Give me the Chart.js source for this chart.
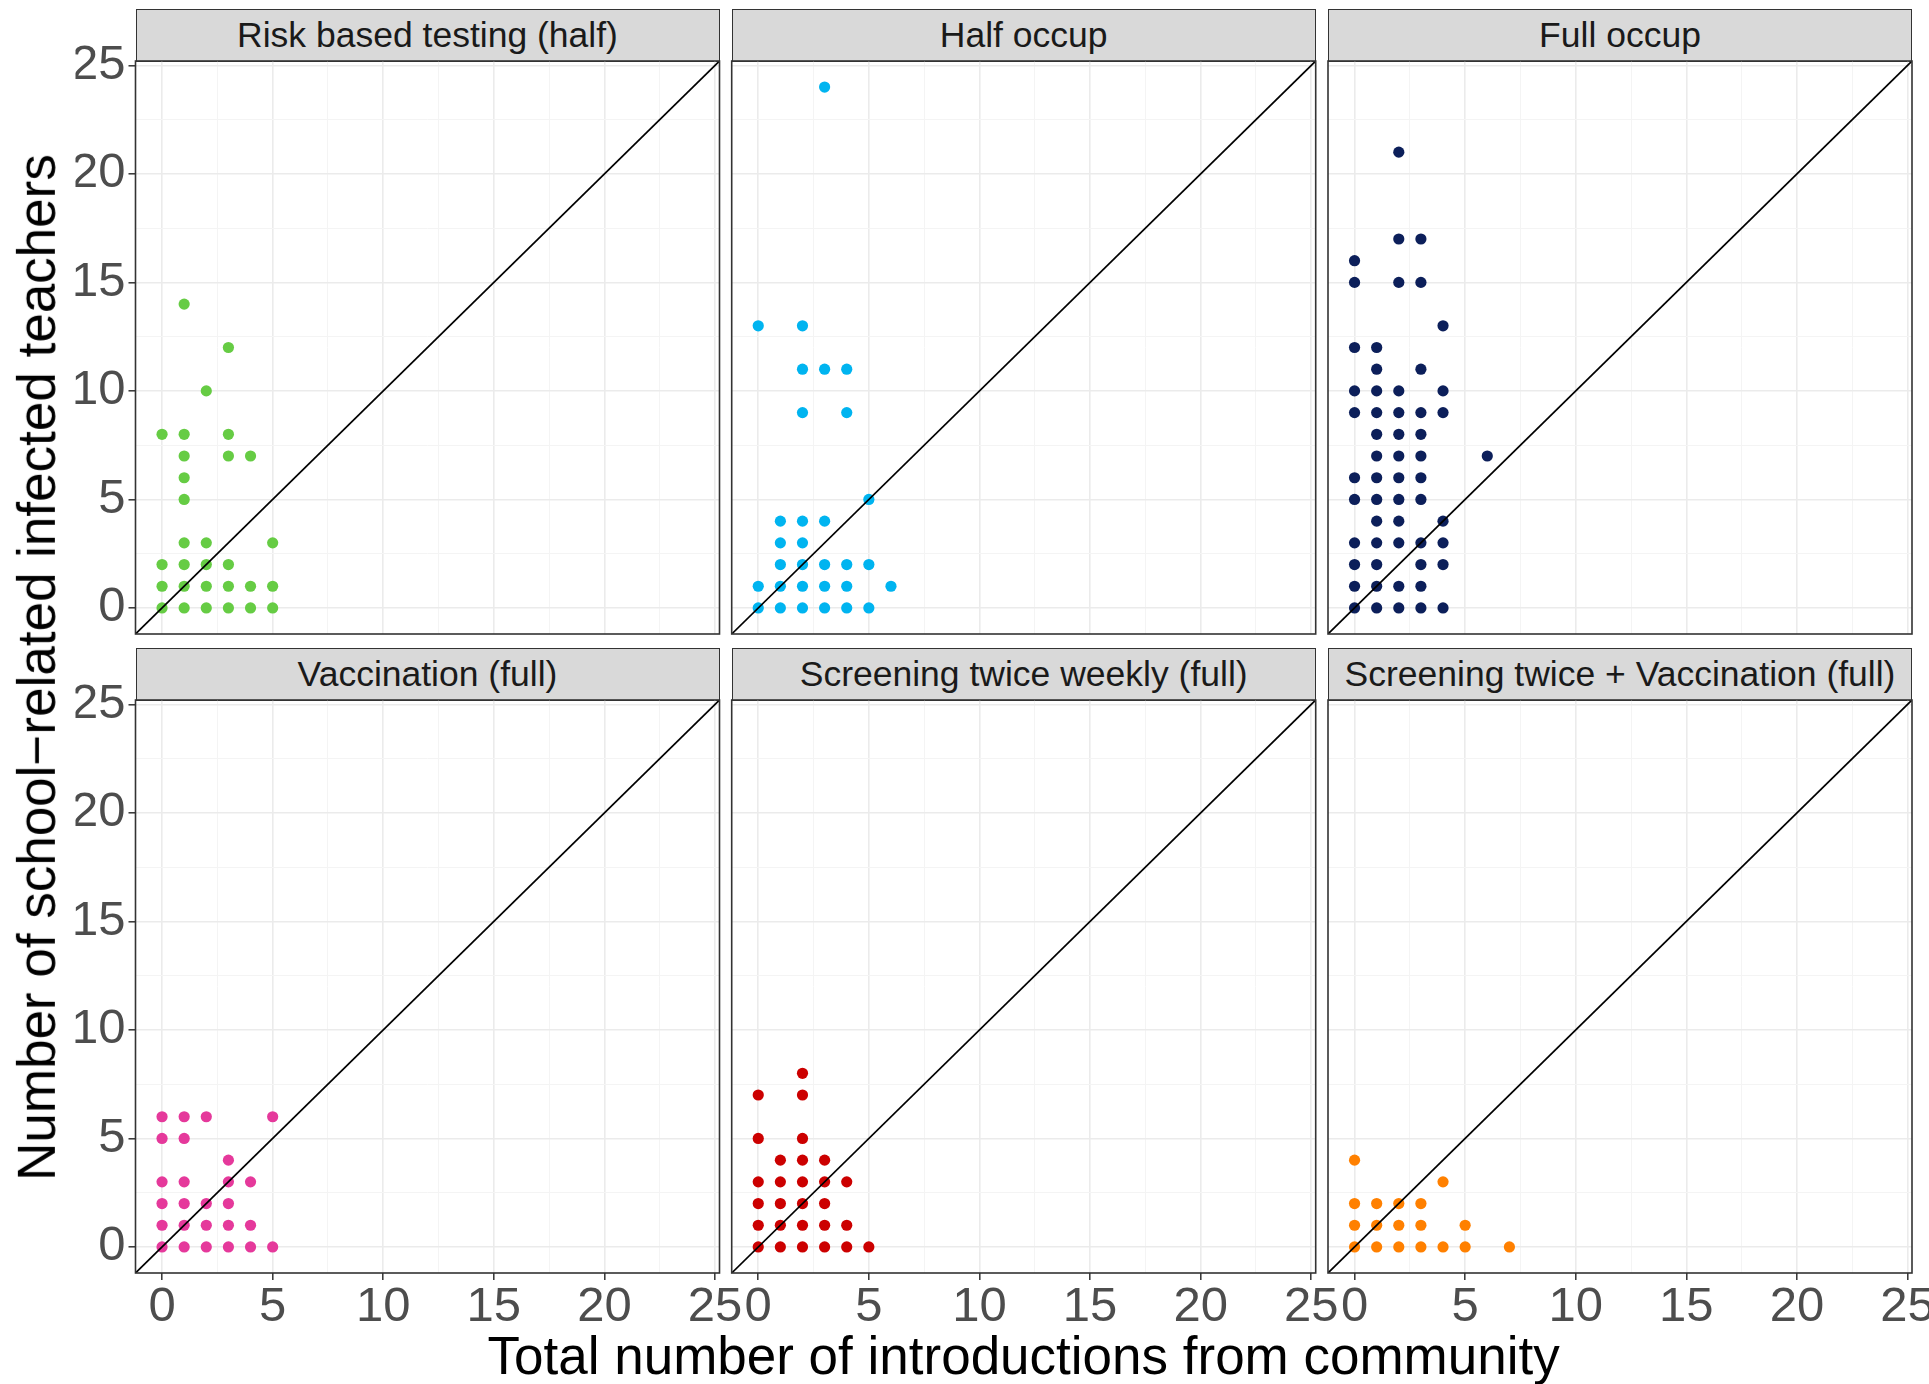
<!DOCTYPE html>
<html>
<head>
<meta charset="utf-8">
<title>Teachers vs community introductions</title>
<script src="https://cdn.jsdelivr.net/npm/chart.js@4.4.1/dist/chart.umd.min.js"></script>
<style>
  body { margin: 0; background: #fff; }
  #wrap { position: relative; width: 1929px; height: 1384px; overflow: hidden; font-family: "Liberation Sans", Arial, sans-serif; }
  #wrap canvas { position: absolute; left: 0; top: 0; }
  .strip { position: absolute; box-sizing: border-box; background: #d9d9d9; border: 1.6px solid #333;
           display: flex; align-items: center; justify-content: center; font-size: 35.5px; color: #1a1a1a; white-space: nowrap; }
  .axtitle { position: absolute; font-size: 53px; line-height: 53px; color: #000; white-space: nowrap; }
</style>
</head>
<body>
<div id="wrap"></div>
<script>
// panel titles and colours
const panelTitles = ['Risk based testing (half)', 'Half occup', 'Full occup',
                     'Vaccination (full)', 'Screening twice weekly (full)', 'Screening twice + Vaccination (full)'];
const panelColors = ['#66cc44', '#00b4f0', '#0c1f5a', '#e5399b', '#cc0000', '#ff8000'];

// points as [introductions from community, school-related infected teachers]
const riskBased = [[0,0],[1,0],[2,0],[3,0],[4,0],[5,0],[0,1],[1,1],[2,1],[3,1],[4,1],[5,1],
  [0,2],[1,2],[2,2],[3,2],[1,3],[2,3],[5,3],[1,5],[1,6],[1,7],[3,7],[4,7],[0,8],[1,8],[3,8],
  [2,10],[3,12],[1,14]];
const halfOccup = [[0,0],[1,0],[2,0],[3,0],[4,0],[5,0],[0,1],[1,1],[2,1],[3,1],[4,1],[6,1],
  [1,2],[2,2],[3,2],[4,2],[5,2],[1,3],[2,3],[1,4],[2,4],[3,4],[5,5],[2,9],[4,9],
  [2,11],[3,11],[4,11],[0,13],[2,13],[3,24]];
const fullOccup = [[0,0],[1,0],[2,0],[3,0],[4,0],[0,1],[1,1],[2,1],[3,1],[0,2],[1,2],[3,2],[4,2],
  [0,3],[1,3],[2,3],[3,3],[4,3],[1,4],[2,4],[4,4],[0,5],[1,5],[2,5],[3,5],[0,6],[1,6],[2,6],[3,6],
  [1,7],[2,7],[3,7],[6,7],[1,8],[2,8],[3,8],[0,9],[1,9],[2,9],[3,9],[4,9],[0,10],[1,10],[2,10],[4,10],
  [1,11],[3,11],[0,12],[1,12],[4,13],[0,15],[2,15],[3,15],[0,16],[2,17],[3,17],[2,21]];
const vaccination = [[0,0],[1,0],[2,0],[3,0],[4,0],[5,0],[0,1],[1,1],[2,1],[3,1],[4,1],
  [0,2],[1,2],[2,2],[3,2],[0,3],[1,3],[3,3],[4,3],[3,4],[0,5],[1,5],[0,6],[1,6],[2,6],[5,6]];
const screening = [[0,0],[1,0],[2,0],[3,0],[4,0],[5,0],[0,1],[1,1],[2,1],[3,1],[4,1],
  [0,2],[1,2],[2,2],[3,2],[0,3],[1,3],[2,3],[3,3],[4,3],[1,4],[2,4],[3,4],[0,5],[2,5],[0,7],[2,7],[2,8]];
const screeningVacc = [[0,0],[1,0],[2,0],[3,0],[4,0],[5,0],[7,0],[0,1],[1,1],[2,1],[3,1],[5,1],
  [0,2],[1,2],[2,2],[3,2],[4,3],[0,4]];

const panelData = [riskBased, halfOccup, fullOccup, vaccination, screening, screeningVacc];

// both axes share the same range, ticks every 5 with minor grid at 2.5
const axisMin = -1.2, axisMax = 25.2, gridStep = 2.5, labelStep = 5;

// page layout
const PAGE_W = 1929, PAGE_H = 1384;
const colLeft = [135.5, 731.7, 1328], rowTop = [61, 700];
const PW = 584, PH = 573, STRIP_H = 52.5;
const YW = 60, XH = 60;

const wrap = document.getElementById('wrap');

const frame = {
  id: 'frame',
  afterDraw(chart) {
    const a = chart.chartArea, c = chart.ctx;
    c.save();
    c.strokeStyle = '#333';
    c.lineWidth = 1.6;
    c.strokeRect(a.left, a.top, a.right - a.left, a.bottom - a.top);
    c.restore();
  }
};

function isMajor(v) { return Math.abs(v % labelStep) < 1e-6; }

function axis(showLabels) {
  return {
    type: 'linear', min: axisMin, max: axisMax,
    afterFit: s => {
      if (s.isHorizontal()) s.height = XH; else s.width = YW;
      s.paddingLeft = s.paddingRight = s.paddingTop = s.paddingBottom = 0;
    },
    border: { display: false },
    grid: {
      color: ctx => isMajor(ctx.tick.value) ? '#ebebeb' : '#f4f4f4',
      lineWidth: ctx => isMajor(ctx.tick.value) ? 1.6 : 1,
      drawTicks: showLabels,
      tickLength: 7,
      tickWidth: 1.5,
      tickColor: ctx => isMajor(ctx.tick.value) ? '#333' : 'rgba(0,0,0,0)'
    },
    ticks: {
      display: showLabels,
      stepSize: gridStep,
      includeBounds: false,
      autoSkip: false,
      maxRotation: 0,
      padding: 3,
      color: '#4d4d4d',
      font: { family: '"Liberation Sans", Arial, sans-serif', size: 49, lineHeight: 1 },
      callback: v => isMajor(v) ? String(v) : ''
    }
  };
}

panelData.forEach((pts, i) => {
  const col = i % 3, row = Math.floor(i / 3);
  const L = colLeft[col], T = rowTop[row];

  const strip = document.createElement('div');
  strip.className = 'strip';
  strip.style.left = L + 'px';
  strip.style.top = (T - STRIP_H) + 'px';
  strip.style.width = PW + 'px';
  strip.style.height = (STRIP_H + 1) + 'px';
  strip.textContent = panelTitles[i];
  wrap.appendChild(strip);

  const cv = document.createElement('canvas');
  cv.width = PAGE_W; cv.height = PAGE_H;
  wrap.appendChild(cv);

  new Chart(cv, {
    type: 'scatter',
    data: {
      datasets: [
        { data: [{x: axisMin, y: axisMin}, {x: axisMax, y: axisMax}], showLine: true,
          borderColor: '#000', borderWidth: 1.7, pointRadius: 0 },
        { data: pts.map(p => ({x: p[0], y: p[1]})), backgroundColor: panelColors[i],
          borderWidth: 0, pointRadius: 5.6 }
      ]
    },
    options: {
      responsive: false, animation: false, devicePixelRatio: 1,
      layout: { padding: { left: L - YW, right: PAGE_W - L - PW, top: T, bottom: PAGE_H - T - PH - XH } },
      plugins: { legend: { display: false }, tooltip: { enabled: false } },
      scales: { x: axis(row === 1), y: axis(col === 0) }
    },
    plugins: [frame]
  });
});

// shared axis titles
const xt = document.createElement('div');
xt.className = 'axtitle';
xt.textContent = 'Total number of introductions from community';
wrap.appendChild(xt);
xt.style.left = (1023.5 - xt.offsetWidth / 2) + 'px';
xt.style.top = '1329px';

const yt = document.createElement('div');
yt.className = 'axtitle';
yt.textContent = 'Number of school\u2212related infected teachers';
wrap.appendChild(yt);
yt.style.left = (36.5 - yt.offsetWidth / 2) + 'px';
yt.style.top = (667 - 26.5) + 'px';
yt.style.transform = 'rotate(-90deg)';
</script>
</body>
</html>
